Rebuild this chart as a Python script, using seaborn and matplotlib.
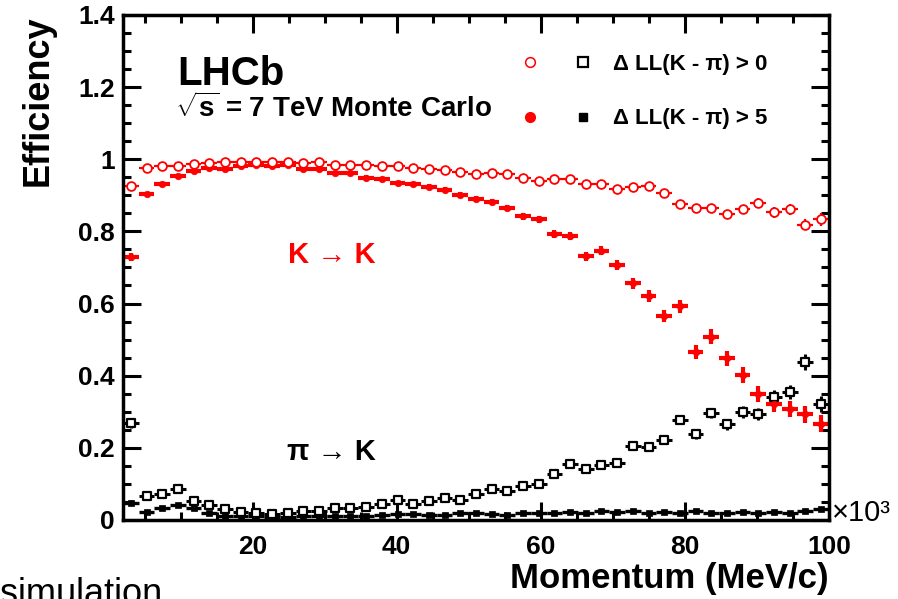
import pandas as pd
import matplotlib
matplotlib.use('Agg')
import matplotlib.pyplot as plt
import seaborn as sns
from matplotlib.lines import Line2D
from matplotlib.legend_handler import HandlerTuple
from matplotlib.ticker import MultipleLocator, FormatStrFormatter

# bin centres (x10^3 MeV/c)
momentum = [3.09, 5.27, 7.44, 9.62, 11.80, 13.98, 16.16, 18.33, 20.51, 22.69,
            24.87, 27.04, 29.22, 31.40, 33.58, 35.76, 37.93, 40.11, 42.29, 44.47,
            46.64, 48.82, 51.00, 53.18, 55.36, 57.53, 59.71, 61.89, 64.07, 66.24,
            68.42, 70.60, 72.78, 74.96, 77.13, 79.31, 81.49, 83.67, 85.84, 88.02,
            90.20, 92.38, 94.56, 96.73, 98.91]
bin_half = 1.09

# K -> K, DLL(K-pi) > 0
k_dll0 = [0.926, 0.977, 0.980, 0.981, 0.986, 0.989, 0.991, 0.993, 0.993, 0.991,
          0.993, 0.989, 0.991, 0.985, 0.985, 0.983, 0.980, 0.980, 0.977, 0.974,
          0.970, 0.965, 0.960, 0.963, 0.960, 0.949, 0.940, 0.944, 0.944, 0.932,
          0.930, 0.918, 0.923, 0.926, 0.907, 0.875, 0.864, 0.864, 0.847, 0.861,
          0.879, 0.853, 0.861, 0.819, 0.833]
k_dll0_err = [0.006, 0.003, 0.003, 0.003, 0.003, 0.003, 0.003, 0.003, 0.003, 0.003,
              0.003, 0.003, 0.004, 0.004, 0.004, 0.004, 0.004, 0.005, 0.005, 0.005,
              0.005, 0.006, 0.006, 0.006, 0.006, 0.007, 0.007, 0.007, 0.008, 0.008,
              0.008, 0.009, 0.009, 0.010, 0.010, 0.011, 0.011, 0.012, 0.013, 0.013,
              0.014, 0.015, 0.015, 0.016, 0.017]

# K -> K, DLL(K-pi) > 5
k_dll5 = [0.729, 0.905, 0.932, 0.953, 0.967, 0.977, 0.974, 0.981, 0.983, 0.980,
          0.985, 0.974, 0.972, 0.963, 0.961, 0.949, 0.944, 0.933, 0.930, 0.923,
          0.916, 0.902, 0.889, 0.881, 0.865, 0.842, 0.833, 0.794, 0.786, 0.731,
          0.747, 0.708, 0.656, 0.621, 0.565, 0.593, 0.466, 0.508, 0.448, 0.401,
          0.350, 0.321, 0.307, 0.293, 0.267]
k_dll5_err = [0.010, 0.004, 0.004, 0.004, 0.004, 0.004, 0.004, 0.004, 0.004, 0.004,
              0.004, 0.005, 0.005, 0.005, 0.005, 0.006, 0.006, 0.006, 0.007, 0.007,
              0.007, 0.008, 0.008, 0.009, 0.009, 0.010, 0.010, 0.011, 0.011, 0.012,
              0.013, 0.014, 0.015, 0.016, 0.017, 0.018, 0.019, 0.020, 0.021, 0.022,
              0.022, 0.023, 0.023, 0.024, 0.024]

# pi -> K, DLL(K-pi) > 0
pi_dll0 = [0.268, 0.067, 0.073, 0.085, 0.053, 0.042, 0.030, 0.023, 0.020, 0.016,
           0.020, 0.025, 0.025, 0.033, 0.034, 0.036, 0.044, 0.055, 0.045, 0.053,
           0.060, 0.055, 0.073, 0.085, 0.079, 0.095, 0.099, 0.127, 0.155, 0.141,
           0.153, 0.157, 0.204, 0.203, 0.222, 0.278, 0.237, 0.296, 0.265, 0.299,
           0.294, 0.341, 0.355, 0.438, 0.322]
pi_dll0_err = [0.012, 0.004, 0.004, 0.004, 0.003, 0.003, 0.003, 0.003, 0.003, 0.003,
               0.003, 0.003, 0.003, 0.003, 0.003, 0.004, 0.004, 0.004, 0.004, 0.004,
               0.005, 0.005, 0.005, 0.006, 0.006, 0.006, 0.007, 0.007, 0.008, 0.008,
               0.009, 0.009, 0.010, 0.011, 0.011, 0.012, 0.013, 0.014, 0.015, 0.016,
               0.017, 0.018, 0.019, 0.021, 0.022]

# pi -> K, DLL(K-pi) > 5
pi_dll5 = [0.048, 0.023, 0.033, 0.042, 0.033, 0.020, 0.012, 0.010, 0.010, 0.008,
           0.008, 0.010, 0.010, 0.012, 0.012, 0.012, 0.015, 0.017, 0.017, 0.015,
           0.015, 0.018, 0.020, 0.017, 0.015, 0.020, 0.018, 0.020, 0.022, 0.020,
           0.024, 0.022, 0.025, 0.020, 0.022, 0.020, 0.024, 0.020, 0.018, 0.022,
           0.020, 0.022, 0.018, 0.024, 0.030]
pi_dll5_err = [0.006, 0.003, 0.003, 0.004, 0.004, 0.003, 0.002, 0.002, 0.002, 0.002,
               0.002, 0.002, 0.002, 0.002, 0.002, 0.002, 0.002, 0.002, 0.002, 0.002,
               0.002, 0.003, 0.003, 0.003, 0.003, 0.003, 0.003, 0.003, 0.003, 0.003,
               0.004, 0.004, 0.004, 0.004, 0.004, 0.004, 0.004, 0.004, 0.004, 0.005,
               0.005, 0.005, 0.005, 0.005, 0.006]

sns.set_style('ticks')
plt.rcParams['font.family'] = ['Liberation Sans', 'DejaVu Sans']
plt.rcParams['font.weight'] = 'bold'
plt.rcParams['mathtext.fontset'] = 'custom'
plt.rcParams['mathtext.rm'] = 'Liberation Sans:bold'
plt.rcParams['mathtext.it'] = 'Liberation Sans:bold'
plt.rcParams['mathtext.bf'] = 'Liberation Sans:bold'
for key in ['text.color', 'axes.labelcolor', 'xtick.color', 'ytick.color', 'axes.edgecolor']:
    plt.rcParams[key] = 'black'


def main():
    fig = plt.figure(figsize=(8.98, 5.99), dpi=100)
    ax = fig.add_axes([0.137, 0.132, 0.786, 0.843])

    # error bars first, markers on top
    series = [
        (k_dll0, k_dll0_err, 'red', 1.6),
        (k_dll5, k_dll5_err, 'red', 3.0),
        (pi_dll0, pi_dll0_err, 'black', 2.2),
        (pi_dll5, pi_dll5_err, 'black', 2.4),
    ]
    for y, yerr, col, lw in series:
        ax.errorbar(momentum, y, yerr=yerr, xerr=bin_half, fmt='none',
                    ecolor=col, elinewidth=lw, capsize=0, zorder=2)

    df = pd.DataFrame({'momentum': momentum, 'k0': k_dll0, 'k5': k_dll5,
                       'pi0': pi_dll0, 'pi5': pi_dll5})
    sns.scatterplot(data=df, x='momentum', y='pi5', ax=ax, marker='s', s=20,
                    facecolor='black', edgecolor='black', linewidth=0.5, zorder=3)
    sns.scatterplot(data=df, x='momentum', y='pi0', ax=ax, marker='s', s=36,
                    facecolor='white', edgecolor='black', linewidth=1.6, zorder=3)
    sns.scatterplot(data=df, x='momentum', y='k5', ax=ax, marker='o', s=22,
                    facecolor='red', edgecolor='red', linewidth=0.5, zorder=3)
    sns.scatterplot(data=df, x='momentum', y='k0', ax=ax, marker='o', s=40,
                    facecolor='white', edgecolor='red', linewidth=1.3, zorder=4)

    ax.set_xlim(2, 100)
    ax.set_ylim(0, 1.4)
    ax.xaxis.set_major_locator(MultipleLocator(20))
    ax.xaxis.set_minor_locator(MultipleLocator(5))
    ax.yaxis.set_major_locator(MultipleLocator(0.2))
    ax.yaxis.set_minor_locator(MultipleLocator(0.05))
    ax.yaxis.set_major_formatter(FormatStrFormatter('%g'))
    ax.tick_params(which='both', direction='in', top=True, right=True,
                   width=2.2, labelsize=19)
    ax.tick_params(axis='x', pad=11)
    ax.tick_params(axis='y', pad=6)
    ax.tick_params(which='major', length=13)
    ax.tick_params(which='minor', length=6)
    for sp in ax.spines.values():
        sp.set_linewidth(2.5)

    ax.set_xlabel('Momentum (MeV/c)', fontsize=25, fontweight='bold', loc='right', labelpad=2)
    ax.set_ylabel('Efficiency', fontsize=26, fontweight='bold', loc='top', labelpad=16)
    ax.text(1.004, 0.014, '×10³', transform=ax.transAxes, fontsize=21,
            fontweight='normal', ha='left', va='center')

    ax.text(0.0765, 0.862, 'LHCb', transform=ax.transAxes, fontsize=29,
            fontweight='bold', ha='left', va='baseline')
    ax.text(0.073, 0.798, r'$\sqrt{s}$ = 7 TeV Monte Carlo', transform=ax.transAxes,
            fontsize=20, fontweight='bold', ha='left', va='baseline')
    ax.text(0.234, 0.508, 'K → K', transform=ax.transAxes, fontsize=21,
            fontweight='bold', color='red', ha='left', va='baseline')
    ax.text(0.232, 0.119, 'π → K', transform=ax.transAxes, fontsize=21,
            fontweight='bold', color='black', ha='left', va='baseline')

    h_k0 = Line2D([], [], ls='none', marker='o', mfc='white', mec='red', ms=7, mew=1.1)
    h_pi0 = Line2D([], [], ls='none', marker='s', mfc='white', mec='black', ms=7, mew=1.6)
    h_k5 = Line2D([], [], ls='none', marker='o', mfc='red', mec='red', ms=7)
    h_pi5 = Line2D([], [], ls='none', marker='s', mfc='black', mec='black', ms=6)
    ax.legend([(h_k0, h_pi0), (h_k5, h_pi5)],
              ['Δ LL(K - π) > 0', 'Δ LL(K - π) > 5'],
              handler_map={tuple: HandlerTuple(ndivide=None, pad=0)},
              handlelength=4.78, handletextpad=0.15, labelspacing=1.5,
              prop={'weight': 'bold', 'size': 16}, frameon=False,
              loc='center left', bbox_to_anchor=(0.539, 0.848),
              borderpad=0, borderaxespad=0)

    fig.text(0.0, -0.008, 'simulation', fontsize=26, fontweight='normal',
             ha='left', va='baseline')

    plt.savefig('out.png', dpi=100)


if __name__ == '__main__':
    main()
